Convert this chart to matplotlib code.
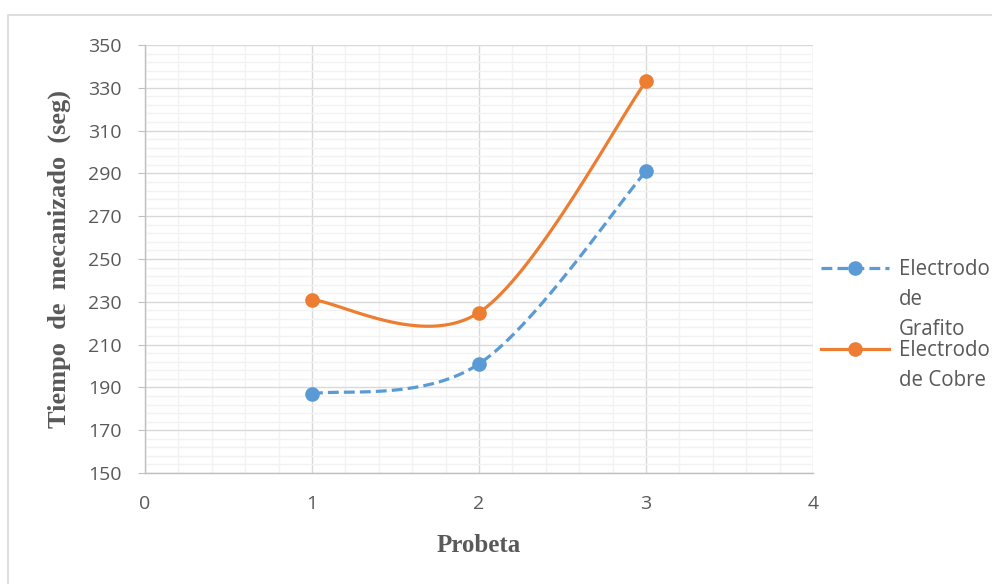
import numpy as np
import matplotlib
matplotlib.use("Agg")
import matplotlib.pyplot as plt
from matplotlib.lines import Line2D
from matplotlib.patches import Rectangle
from matplotlib.ticker import FixedLocator

# Data
probeta = [1, 2, 3]
grafito = [187, 201, 291]
cobre = [231, 225, 333]
series_names = ["Electrodo\nde\nGrafito", "Electrodo\nde Cobre"]

BLUE = "#5b9bd5"
ORANGE = "#ed7d31"
TEXT = "#595959"


def smooth(xs, ys, n=60):
    """Cubic Bezier curve through the points (Catmull-Rom style control points)."""
    P = np.column_stack([xs, ys]).astype(float)
    ext = np.vstack([P[0], P, P[-1]])
    out = []
    t = np.linspace(0, 1, n)[:, None]
    for i in range(len(P) - 1):
        p0, p1 = P[i], P[i + 1]
        c1 = p0 + (ext[i + 2] - ext[i]) / 6.0
        c2 = p1 - (ext[i + 3] - ext[i + 1]) / 6.0
        seg = ((1 - t) ** 3) * p0 + 3 * ((1 - t) ** 2) * t * c1 + 3 * (1 - t) * t ** 2 * c2 + t ** 3 * p1
        out.append(seg if i == 0 else seg[1:])
    c = np.vstack(out)
    return c[:, 0], c[:, 1]


fig = plt.figure(figsize=(9.92, 5.84), dpi=100)
fig.patch.set_facecolor("white")

# chart area border
fig.add_artist(Rectangle((8 / 992, -0.05), 1.2, 1 - 15 / 584 + 0.05, transform=fig.transFigure,
                         fill=False, edgecolor="#d9d9d9", linewidth=1.2))

ax = fig.add_axes([145 / 992, 1 - 473 / 584, (813 - 145) / 992, (473 - 45) / 584])
ax.set_xlim(0, 4)
ax.set_ylim(150, 350)
ax.xaxis.set_major_locator(FixedLocator(np.arange(0, 4.01, 1)))
ax.xaxis.set_minor_locator(FixedLocator(np.arange(0, 4.01, 0.2)))
ax.yaxis.set_major_locator(FixedLocator(np.arange(150, 351, 20)))
ax.yaxis.set_minor_locator(FixedLocator(np.arange(150, 351, 4)))
ax.grid(which="minor", color="#f2f2f2", linewidth=1.0)
ax.grid(which="major", color="#d9d9d9", linewidth=1.0)
ax.set_axisbelow(True)

for s in ("top", "right"):
    ax.spines[s].set_visible(False)
for s in ("left", "bottom"):
    ax.spines[s].set_color("#bfbfbf")
    ax.spines[s].set_linewidth(1.0)

ax.tick_params(axis="y", which="major", length=5, color="#bfbfbf", pad=12,
               labelsize=14, labelcolor=TEXT)
ax.tick_params(axis="x", which="major", length=0, pad=16, labelsize=14, labelcolor=TEXT)
ax.tick_params(which="minor", length=0)
for lab in ax.get_xticklabels() + ax.get_yticklabels():
    lab.set_fontfamily("Open Sans")

# series
gx, gy = smooth(probeta, grafito)
ax.plot(gx, gy, color=BLUE, linewidth=2.3, dashes=(3.4, 1.6), dash_capstyle="butt", zorder=3)
ax.plot(probeta, grafito, linestyle="none", marker="o", markersize=9.5, color=BLUE, zorder=4)

cx, cy = smooth(probeta, cobre)
ax.plot(cx, cy, color=ORANGE, linewidth=2.3, zorder=3)
ax.plot(probeta, cobre, linestyle="none", marker="o", markersize=9.5, color=ORANGE, zorder=4)

ax.set_xlabel("Probeta", fontfamily="Liberation Serif", fontweight="bold", fontsize=18,
              color=TEXT, labelpad=15)
ax.set_ylabel("Tiempo  de  mecanizado  (seg)", fontfamily="Liberation Serif", fontweight="bold",
              fontsize=19, color=TEXT, labelpad=12)

# legend
def legend_entry(y_px, color, dashed, label):
    yf = 1 - y_px / 584
    kw = dict(dashes=(3.4, 1.6)) if dashed else {}
    fig.add_artist(Line2D([821 / 992, 889 / 992], [yf, yf], transform=fig.transFigure,
                          color=color, linewidth=2.3, **kw))
    fig.add_artist(Line2D([855 / 992], [yf], transform=fig.transFigure, color=color,
                          marker="o", markersize=9.5, linestyle="none"))
    fig.text(899 / 992, yf + 9 / 584, label, transform=fig.transFigure, ha="left", va="top",
             fontsize=14.8, fontfamily="Open Sans", color=TEXT, linespacing=1.56)

legend_entry(268, BLUE, True, series_names[0])
legend_entry(349, ORANGE, False, series_names[1])

fig.savefig("out.png", dpi=100)
